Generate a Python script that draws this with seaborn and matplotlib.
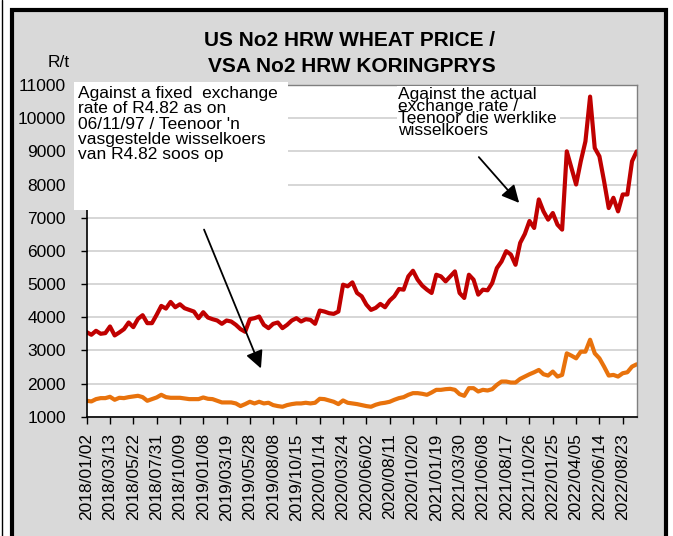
import numpy as np
import seaborn as sns
import matplotlib
matplotlib.use('Agg')
import matplotlib.pyplot as plt
from matplotlib.patches import Rectangle, FancyArrowPatch
from matplotlib.lines import Line2D

# Labels on the date axis (one every 50 trading days)
tick_labels = ['2018/01/02', '2018/03/13', '2018/05/22', '2018/07/31', '2018/10/09',
               '2019/01/08', '2019/03/19', '2019/05/28', '2019/08/08', '2019/10/15',
               '2020/01/14', '2020/03/24', '2020/06/02', '2020/08/11', '2020/10/20',
               '2021/01/19', '2021/03/30', '2021/06/08', '2021/08/17', '2021/10/26',
               '2022/01/25', '2022/04/05', '2022/06/14', '2022/08/23']

actual_rate = [3550, 3470, 3590, 3500, 3520, 3720, 3450, 3540, 3640, 3840,
               3700, 3950, 4060, 3820, 3820, 4070, 4340, 4260, 4460, 4300,
               4390, 4270, 4220, 4170, 3970, 4150, 3990, 3940, 3900, 3800,
               3900, 3870, 3770, 3640, 3560, 3940, 3970, 4020, 3770, 3670,
               3800, 3840, 3670, 3770, 3900, 3970, 3870, 3940, 3920, 3800,
               4200, 4170, 4120, 4100, 4170, 4980, 4930, 5050, 4730, 4630,
               4380, 4220, 4280, 4400, 4300, 4500, 4630, 4850, 4830, 5230,
               5400, 5130, 4950, 4830, 4730, 5280, 5230, 5080, 5230, 5380,
               4730, 4580, 5280, 5130, 4680, 4830, 4810, 5030, 5480, 5680,
               5990, 5890, 5580, 6240, 6510, 6900, 6690, 7550, 7190, 6940,
               7140, 6790, 6640, 9000, 8500, 8000, 8700, 9300, 10650, 9100,
               8850, 8100, 7290, 7600, 7190, 7700, 7700, 8700, 9000]

fixed_rate = [1480, 1460, 1530, 1560, 1560, 1600, 1510, 1570, 1560, 1590,
              1610, 1630, 1590, 1480, 1530, 1580, 1660, 1590, 1570, 1570,
              1570, 1550, 1530, 1530, 1530, 1580, 1540, 1530, 1480, 1430,
              1430, 1430, 1400, 1320, 1380, 1450, 1400, 1450, 1400, 1420,
              1350, 1320, 1300, 1350, 1380, 1400, 1400, 1420, 1400, 1420,
              1540, 1530, 1490, 1450, 1380, 1490, 1420, 1400, 1380, 1350,
              1320, 1300, 1360, 1400, 1420, 1450, 1510, 1560, 1590, 1660,
              1710, 1710, 1690, 1660, 1730, 1810, 1810, 1830, 1840, 1810,
              1680, 1630, 1860, 1860, 1760, 1810, 1790, 1830, 1960, 2060,
              2060, 2030, 2030, 2140, 2210, 2280, 2340, 2410, 2280, 2240,
              2360, 2210, 2260, 2910, 2840, 2760, 2960, 2960, 3320, 2910,
              2760, 2510, 2240, 2260, 2210, 2310, 2340, 2510, 2580]

W, H = 673, 536


def fx(x):
    return x / W


def fy(y):
    return 1 - y / H


sns.set_style('white')
plt.rcParams['font.family'] = ['Liberation Sans', 'DejaVu Sans']
plt.rcParams['text.color'] = 'black'
plt.rcParams['xtick.color'] = 'black'
plt.rcParams['ytick.color'] = 'black'

fig = plt.figure(figsize=(W / 100, H / 100), dpi=100, facecolor='white')

# grey frame with heavy black border
fig.add_artist(Rectangle((fx(12), fy(560)), fx(654), fy(9.5) - fy(560),
                         transform=fig.transFigure, facecolor='#d9d9d9',
                         edgecolor='black', lw=3, zorder=-2))
fig.add_artist(Line2D([fx(2), fx(2)], [0, 1], transform=fig.transFigure,
                      color='black', lw=1, zorder=-1))

ax = fig.add_axes([fx(86.7), fy(416.7), fx(636.7) - fx(86.7), fy(85) - fy(416.7)])
ax.set_facecolor('white')

x = np.arange(len(actual_rate))
sns.lineplot(x=x, y=fixed_rate, color='#e8720c', lw=3, ax=ax)
sns.lineplot(x=x, y=actual_rate, color='#c00000', lw=3, ax=ax)

ax.set_xlim(0, len(actual_rate) - 1)
ax.set_ylim(1000, 11000)
ax.set_yticks(range(1000, 11001, 1000))
ax.set_xticks(range(0, len(actual_rate), 5))
ax.set_xticklabels(tick_labels, rotation=90, fontsize=12.5)
ax.tick_params(axis='y', labelsize=12.5, pad=11, length=4, width=1, direction='out', left=True)
ax.tick_params(axis='x', pad=7, length=5, width=1, direction='out', bottom=True)
ax.grid(axis='y', color='#cfcfcf', lw=1.2)
ax.set_axisbelow(True)
for side in ['left', 'bottom']:
    ax.spines[side].set_color('black')
    ax.spines[side].set_linewidth(1.2)
for side in ['top', 'right']:
    ax.spines[side].set_color('#7f7f7f')
    ax.spines[side].set_linewidth(1)
ax.set_xlabel('')
ax.set_ylabel('')

# titles
fig.text(fx(350), fy(40), 'US No2 HRW WHEAT PRICE /', ha='center', va='center',
         fontsize=15, fontweight='bold')
fig.text(fx(352), fy(67), 'VSA No2 HRW KORINGPRYS', ha='center', va='center',
         fontsize=15, fontweight='bold')
fig.text(fx(70), fy(62), 'R/t', ha='right', va='center', fontsize=12.5)

# annotation 1
fig.add_artist(Rectangle((fx(74), fy(210)), fx(288) - fx(74), fy(82) - fy(210),
                         transform=fig.transFigure, facecolor='white',
                         edgecolor='none', zorder=5))
fig.text(fx(78), fy(86), "Against a fixed  exchange\nrate of R4.82 as on\n06/11/97 / Teenoor 'n\n"
         "vasgestelde wisselkoers\nvan R4.82 soos op", ha='left', va='top',
         fontsize=12.5, linespacing=1.03, zorder=6)
fig.add_artist(FancyArrowPatch((fx(203), fy(227)), (fx(262), fy(371)),
                               transform=fig.transFigure,
                               arrowstyle='-|>,head_length=0.7,head_width=0.35',
                               mutation_scale=15, lw=1.3, color='black', zorder=6))

# annotation 2
fig.add_artist(Rectangle((fx(397), fy(148)), fx(560) - fx(397), fy(86) - fy(148),
                         transform=fig.transFigure, facecolor='white',
                         edgecolor='none', zorder=5))
fig.text(fx(398), fy(87), 'Against the actual\nexchange rate /\nTeenoor die werklike\nwisselkoers',
         ha='left', va='top', fontsize=12.5, linespacing=0.75, zorder=6)
fig.add_artist(FancyArrowPatch((fx(477), fy(155)), (fx(521), fy(205)),
                               transform=fig.transFigure,
                               arrowstyle='-|>,head_length=0.7,head_width=0.35',
                               mutation_scale=15, lw=1.3, color='black', zorder=6))

fig.savefig('out.png', dpi=100)
